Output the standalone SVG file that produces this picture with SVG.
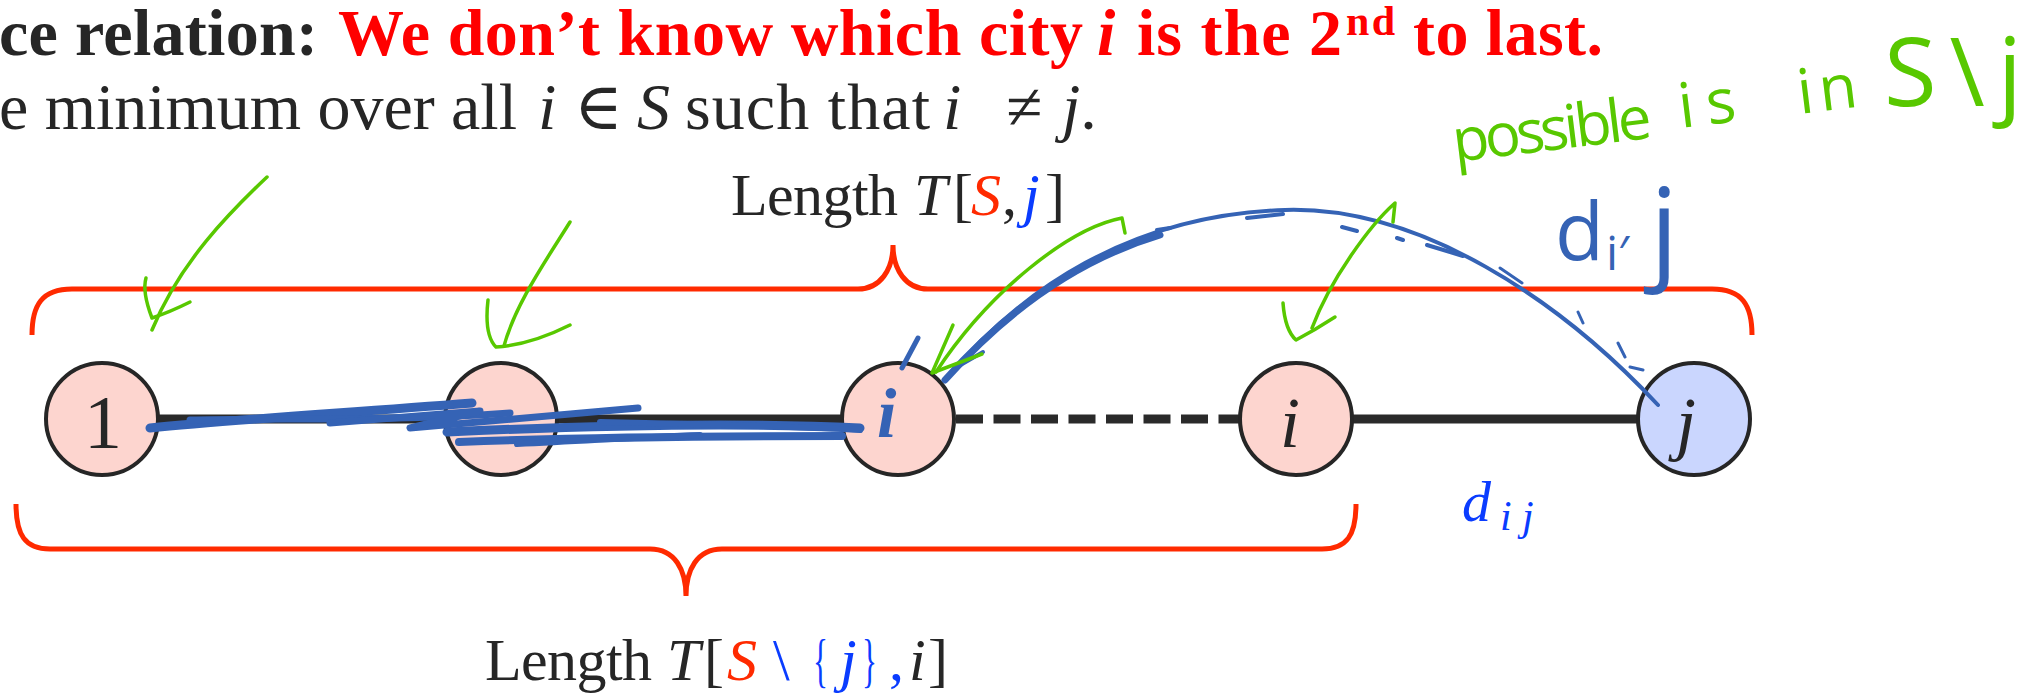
<svg xmlns="http://www.w3.org/2000/svg" width="2044" height="693" viewBox="0 0 2044 693">
<style>
.serif{font-family:"Liberation Serif","DejaVu Serif",serif}
.dark{fill:#262626}
.red{fill:#ff0000}
.sred{fill:#ff2a00}
.blue{fill:#0a3cff}
.it{font-style:italic}
.b{font-weight:bold}
.node{stroke:#262626;stroke-width:4}
.pink{fill:#fdd5cf}
.lblue{fill:#cad6fe}
.edge{stroke:#2a2a2a;stroke-width:9;fill:none}
.brace{stroke:#ff2a00;stroke-width:5;fill:none}
.ink-b{stroke:#3563b5;fill:none;stroke-linecap:round;stroke-linejoin:round}
.ink-g{stroke:#58c800;fill:none;stroke-width:3.5;stroke-linecap:round;stroke-linejoin:round}
.hand{font-family:"Open Sans","Liberation Sans",sans-serif}
</style>
<rect width="2044" height="693" fill="#ffffff"/>

<g id="title" class="serif">
<text y="55" font-size="66" class="b"><tspan x="-1" class="dark" textLength="319">ce relation:</tspan><tspan x="338" class="red" textLength="745">We don’t know which city</tspan><tspan x="1097" class="red it">i</tspan><tspan x="1137" class="red" textLength="205">is the 2</tspan><tspan x="1346" y="35" font-size="42" class="red" textLength="49">nd</tspan><tspan x="1413" y="55" class="red" textLength="190">to last.</tspan></text>
<text y="129" font-size="66" class="dark"><tspan x="-1" textLength="518">e minimum over all</tspan><tspan x="538" class="it">i</tspan><tspan x="574">∈</tspan><tspan x="637" class="it">S</tspan><tspan x="685" textLength="245">such that</tspan><tspan x="943" class="it">i</tspan><tspan x="1006">≠</tspan><tspan x="1062" class="it">j</tspan><tspan>.</tspan></text>
</g>

<g id="connectors">
<line x1="158" y1="419" x2="842" y2="419" class="edge"/>
<line x1="956" y1="419" x2="1240" y2="419" class="edge" stroke-dasharray="27 10.5"/>
<line x1="1352" y1="419" x2="1638" y2="419" class="edge"/>
</g>

<g id="node-1"><circle cx="102" cy="419" r="56" class="node pink"/><text x="103" y="448" text-anchor="middle" font-size="76" class="serif dark">1</text></g>
<g id="node-2"><circle cx="501" cy="419" r="56" class="node pink"/></g>
<g id="node-3"><circle cx="898" cy="419" r="56" class="node pink"/><text x="877" y="437" font-size="70" class="serif it b" fill="#3563b5">i</text></g>
<g id="node-4"><circle cx="1296" cy="419" r="56" class="node pink"/><text x="1290" y="447" text-anchor="middle" font-size="72" class="serif it dark">i</text></g>
<g id="node-j"><circle cx="1694" cy="419" r="56" class="node lblue"/><text x="1686" y="447" text-anchor="middle" font-size="72" class="serif it dark">j</text></g>

<g id="brace-top">
<path class="brace" d="M 32 335 C 32 305, 42 289, 72 289 L 858 289 C 880 289, 893 270, 893 245 C 893 270, 906 289, 928 289 L 1712 289 C 1742 289, 1752 305, 1752 335"/>
</g>
<g id="brace-bottom">
<path class="brace" d="M 16 504 C 16 535, 25 549, 50 549 L 650 549 C 675 549, 686 570, 686 596 C 686 570, 697 549, 722 549 L 1322 549 C 1347 549, 1356 535, 1356 504"/>
</g>

<g id="label-top" class="serif" font-size="60">
<text y="215"><tspan x="731" class="dark" textLength="167">Length</tspan><tspan x="914" class="dark it">T</tspan><tspan x="953" class="dark">[</tspan><tspan x="971" class="sred it">S</tspan><tspan x="1002" class="dark">,</tspan><tspan x="1023" class="blue it">j</tspan><tspan x="1045" class="dark">]</tspan></text>
</g>
<g id="label-bottom" class="serif" font-size="60">
<text y="680"><tspan x="485" class="dark" textLength="167">Length</tspan><tspan x="667" class="dark it">T</tspan><tspan x="704" class="dark">[</tspan><tspan x="727" class="sred it">S</tspan><tspan x="773" class="blue">\</tspan><tspan x="813" class="blue" textLength="15" lengthAdjust="spacingAndGlyphs">{</tspan><tspan x="840" class="blue it">j</tspan><tspan x="862" class="blue" textLength="15" lengthAdjust="spacingAndGlyphs">}</tspan><tspan x="889" class="blue">,</tspan><tspan x="909" class="dark it">i</tspan><tspan x="928" class="dark">]</tspan></text>
</g>
<g id="label-dij" class="serif blue it">
<text y="521"><tspan x="1462" font-size="58">d</tspan><tspan x="1500" y="530" font-size="42">i</tspan><tspan x="1522" y="530" font-size="42">j</tspan></text>
</g>

<g id="ink-blue" class="ink-b">
<path stroke-width="9" d="M 150 428 C 230 420, 330 414, 472 403"/>
<path stroke-width="7" d="M 190 420 C 290 418, 400 421, 510 413"/>
<path stroke-width="7" d="M 330 423 L 480 411 L 410 428 L 638 408"/>
<path stroke-width="9" d="M 447 432 C 600 425, 740 422, 860 428"/>
<path stroke-width="8" d="M 459 442 C 560 438, 720 436, 842 436"/>
<path stroke-width="6" d="M 517 444 C 600 440, 640 437, 700 435"/>
<path stroke-width="6" d="M 600 422 C 700 424, 780 426, 860 430"/>
<path stroke-width="5" d="M 902 368 L 918 338"/>
<path stroke-width="4" d="M 945 380 C 1020 290, 1130 215, 1285 210 C 1420 206, 1560 300, 1658 405"/>
<path stroke-width="7" d="M 945 380 C 1000 318, 1070 262, 1160 235"/>
<path stroke-width="4" d="M 983 352 L 957 367"/>
<path stroke-width="4" d="M 1070 273 L 1093 262 M 1157 230 L 1170 228 M 1247 218 L 1283 214 M 1342 227 L 1357 231 M 1397 238 L 1403 240 M 1427 245 L 1463 256"/>
<path stroke-width="3" d="M 1500 268 L 1522 283 M 1578 312 L 1583 323 M 1618 343 L 1625 357 M 1630 367 L 1643 370"/>
<text x="1555" y="260" font-size="80" class="hand" fill="#3563b5" stroke="none">d</text>
<text x="1606" y="270" font-size="48" class="hand" fill="#3563b5" stroke="none">i′</text>
<text x="1650" y="268" font-size="112" class="hand" fill="#3563b5" stroke="none">j</text>
</g>

<g id="ink-green" class="ink-g">
<path d="M 267 177 C 230 212, 180 262, 152 330"/>
<path d="M 146 278 Q 142 292, 152 318 Q 170 312, 190 302"/>
<path d="M 570 222 C 545 262, 515 305, 504 346"/>
<path d="M 488 300 Q 484 335, 496 347 Q 530 345, 570 325"/>
<path d="M 1125 233 L 1122 218 C 1070 228, 990 290, 936 372"/>
<path d="M 953 325 L 932 373 L 982 354"/>
<path d="M 1393 222 L 1395 203 C 1370 225, 1330 280, 1312 328"/>
<path d="M 1283 303 Q 1285 330, 1296 340 Q 1315 330, 1335 317"/>
<g class="hand" fill="#58c800" stroke="none">
<text x="1455" y="162" font-size="60" transform="rotate(-7 1455 162)" textLength="200">possible</text>
<text x="1681" y="128" font-size="62" letter-spacing="12" transform="rotate(-7 1681 128)">is</text>
<text x="1800" y="114" font-size="62" letter-spacing="6" transform="rotate(-7 1800 114)">in</text>
<text x="1884" y="106" font-size="96" textLength="138">S\j</text>
</g>
</g>
</svg>
